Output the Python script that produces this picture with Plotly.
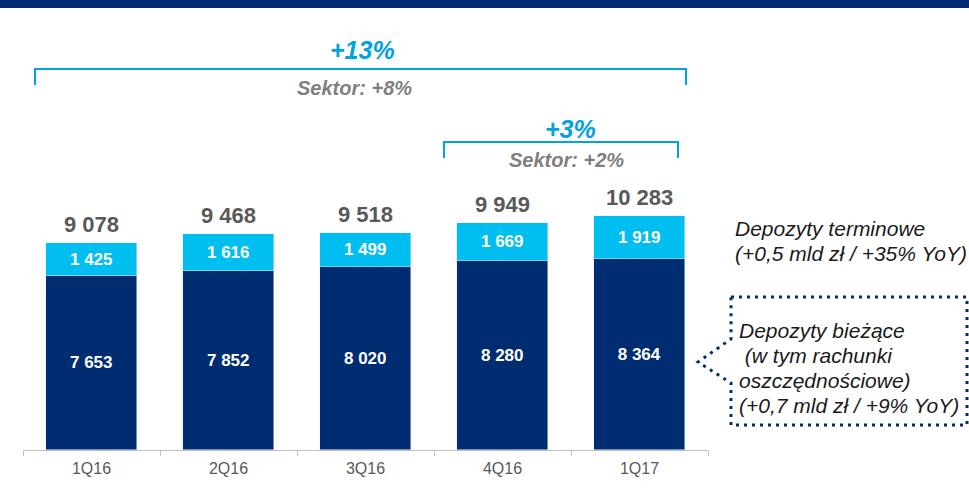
import plotly.graph_objects as go

quarters = ["1Q16", "2Q16", "3Q16", "4Q16", "1Q17"]
biezace = [7653, 7852, 8020, 8280, 8364]
terminowe = [1425, 1616, 1499, 1669, 1919]
totals = [9078, 9468, 9518, 9949, 10283]

NAVY = "#002D72"
CYAN = "#00BEF0"
BRACKET = "#00A3E0"
GREY = "#7F7F7F"
FONT = "Arial, Liberation Sans, sans-serif"

# plot area in pixels (969x492 window)
L, R, T, B = 23, 261, 10, 42
W, H = 969 - L - R, 492 - T - B


def px(x):
    return (x - L) / W


def py(y):
    return (492 - B - y) / H


def fmt(v):
    return f"{v:,}".replace(",", " ")


fig = go.Figure()
fig.add_trace(go.Bar(
    x=quarters, y=biezace, marker_color=NAVY, width=0.665,
    text=[fmt(v) for v in biezace], textposition="inside",
    insidetextanchor="middle",
    textfont=dict(color="white", size=17, family=FONT, weight="bold"),
))
fig.add_trace(go.Bar(
    x=quarters, y=terminowe, marker_color=CYAN, width=0.665,
    text=[fmt(v) for v in terminowe], textposition="inside",
    insidetextanchor="middle",
    textfont=dict(color="white", size=17, family=FONT, weight="bold"),
))

# totals above bars
for q, t in zip(quarters, totals):
    fig.add_annotation(x=q, y=t, text=fmt(t), showarrow=False,
                       yanchor="bottom", yshift=4,
                       font=dict(size=22, color="#595959", family=FONT, weight="bold"))

shapes = []
# top banner
shapes.append(dict(type="rect", xref="paper", yref="paper",
                   x0=px(-2), x1=px(971), y0=py(8), y1=py(-2),
                   fillcolor=NAVY, line_width=0))

# brackets
def bracket(x0, x1, ytop, ybot):
    return dict(type="path", xref="paper", yref="paper",
                path=f"M {px(x0)},{py(ybot)} L {px(x0)},{py(ytop)} "
                     f"L {px(x1)},{py(ytop)} L {px(x1)},{py(ybot)}",
                line=dict(color=BRACKET, width=2))

shapes.append(bracket(35, 686, 69, 85))
shapes.append(bracket(444, 678, 142, 158))

# dotted callout
pts = [(731, 297), (967, 297), (967, 425), (731, 425), (731, 383),
       (698, 362), (731, 339), (731, 297)]
path = "M " + " L ".join(f"{px(a)},{py(b)}" for a, b in pts)
shapes.append(dict(type="path", xref="paper", yref="paper", path=path,
                   line=dict(color=NAVY, width=3, dash="3px,5px")))

anns = [
    (362, 50, "<b><i>+13%</i></b>", 25, BRACKET, "center"),
    (354, 88, "<b><i>Sektor: +8%</i></b>", 20, GREY, "center"),
    (570, 129, "<b><i>+3%</i></b>", 25, BRACKET, "center"),
    (566, 160, "<b><i>Sektor: +2%</i></b>", 20, GREY, "center"),
    (733, 228, "<i>Depozyty terminowe</i>", 21, "#1A1A1A", "left"),
    (733, 253, "<i>(+0,5 mld zł / +35% YoY)</i>", 21, "#1A1A1A", "left"),
    (737, 330, "<i>Depozyty bieżące</i>", 21, "#1A1A1A", "left"),
    (737, 355, "<i> (w tym rachunki</i>", 21, "#1A1A1A", "left"),
    (737, 380, "<i>oszczędnościowe)</i>", 21, "#1A1A1A", "left"),
    (737, 405, "<i>(+0,7 mld zł / +9% YoY)</i>", 21, "#1A1A1A", "left"),
]
for x, y, txt, size, col, anchor in anns:
    fig.add_annotation(xref="paper", yref="paper", x=px(x), y=py(y),
                       text=txt, showarrow=False, xanchor=anchor,
                       yanchor="middle",
                       font=dict(size=size, color=col, family=FONT))

fig.update_layout(
    barmode="stack",
    width=969, height=492,
    margin=dict(l=L, r=R, t=T, b=B),
    paper_bgcolor="white", plot_bgcolor="white",
    showlegend=False,
    bargap=0,
    shapes=shapes,
    font=dict(family=FONT),
    xaxis=dict(showline=True, linecolor="#BFBFBF", linewidth=1,
               ticks="outside", tickson="boundaries", ticklen=5,
               tickcolor="#BFBFBF", ticklabelstandoff=4,
               tickfont=dict(size=16, color="#595959", family=FONT),
               range=[-0.5, 4.5]),
    yaxis=dict(visible=False, range=[0, H / 0.0228]),
)

# page body has an 8px default margin; drop it so the figure fills the window
fig.write_html("out.html", config={"displayModeBar": False},
               post_script="document.body.style.margin='0';")
